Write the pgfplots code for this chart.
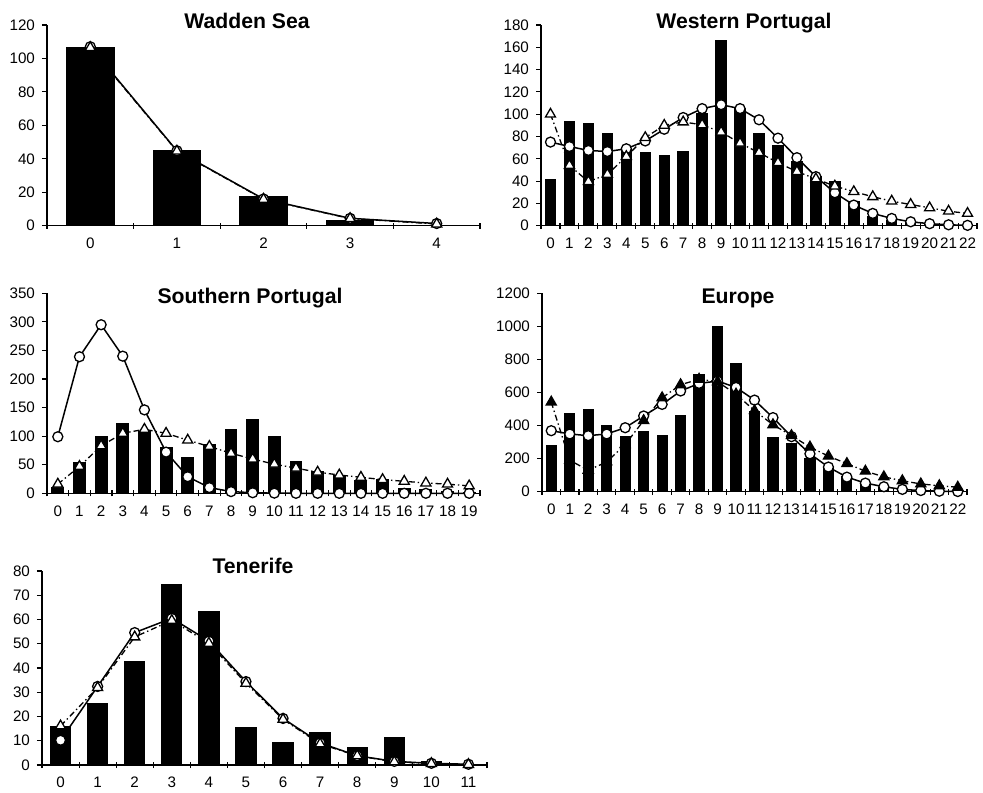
\documentclass[border=0pt]{standalone}
\usepackage{pgfplots}
\pgfplotsset{compat=1.18}
\usepackage{fontspec}
\setmainfont{Liberation Sans}
\pgfplotsset{
  panel/.style={
    scale only axis,
    anchor=south west,
    axis x line=bottom, axis y line=left,
    axis line style={-, line width=0.55pt, black},
    ymin=0, clip=false, enlargelimits=false,
    tick align=outside,
    major tick length=2.5pt,
    major x tick style={draw=none},
    minor tick length=3pt,
    minor x tick style={yshift=1.5pt, line width=0.55pt, black},
    y tick style={line width=0.55pt, black},
    tick label style={font=\fontsize{7.6}{8.5}\selectfont},
    xticklabel style={text height=5.4pt},
    /pgf/number format/assume math mode=true,
    /pgf/number format/1000 sep={},
    scaled y ticks=false,
    xtick=data,
  },
  bars/.style={ybar, bar width=0.55, fill=black, draw=black, line width=0pt},
  circ/.style={black, line width=0.75pt, mark=*, mark size=2.5pt, mark options={solid, fill=white, draw=black, line width=0.65pt}},
  tri/.style={black, line width=0.65pt, dash pattern=on 3pt off 1.5pt on 0.7pt off 1.5pt, mark=triangle*, mark size=2.9pt, mark options={solid, fill=white, draw=black, line width=0.65pt}},
  trib/.style={black, line width=0.65pt, dash pattern=on 3pt off 1.5pt on 0.7pt off 1.5pt, mark=triangle*, mark size=2.9pt, mark options={solid, fill=black, draw=black}},
}
\newcommand{\ttl}[1]{\fontsize{10.6}{12}\selectfont\bfseries #1}
\begin{document}
\begin{tikzpicture}
\useasboundingbox (0,0) rectangle (491.5pt,396pt);

% Wadden Sea
\begin{axis}[panel, at={(23.5pt,283.15pt)}, width=216.5pt, height=100.35pt,
  xmin=-0.5, xmax=4.5, ymax=120, ytick={0,20,...,120},
  minor xtick={-0.5,0.5,...,4.5}]
\addplot[bars] coordinates {(0,106.4) (1,45.2) (2,17.3) (3,3.4) (4,0.4)};
\addplot[circ] coordinates {(0,107) (1,44.8) (2,16) (3,4.4) (4,1.3)};
\addplot[tri] coordinates {(0,106.5) (1,44.6) (2,15.8) (3,4.3) (4,1.0)};
\end{axis}

% Western Portugal
\begin{axis}[panel, at={(270.5pt,283.15pt)}, width=218pt, height=100.35pt,
  xmin=-0.5, xmax=22.5, ymax=180, ytick={0,20,...,180},
  minor xtick={-0.5,0.5,...,22.5}]
\addplot[bars] coordinates {(0,41.5) (1,93) (2,92) (3,83) (4,68) (5,65.5) (6,63) (7,66.5) (8,101) (9,166.5) (10,105) (11,83) (12,72) (13,58) (14,44) (15,40) (16,22) (17,8) (18,5) (19,2.5) (20,1) (21,0.5) (22,0.2)};
\addplot[circ] coordinates {(0,75) (1,71) (2,67.5) (3,66.5) (4,69) (5,76) (6,86.5) (7,97) (8,105) (9,108.5) (10,105) (11,95) (12,78.5) (13,61) (14,44) (15,29.5) (16,18.5) (17,11) (18,6.5) (19,3.5) (20,1.8) (21,0.8) (22,0.3)};
\addplot[tri] coordinates {(0,100) (1,54) (2,39.5) (3,46) (4,62) (5,79) (6,90) (7,93) (8,90.5) (9,84) (10,74) (11,65.5) (12,56.5) (13,48.5) (14,42) (15,35.5) (16,30.5) (17,26) (18,22) (19,19) (20,16) (21,13) (22,11)};
\end{axis}

% Southern Portugal
\begin{axis}[panel, at={(23.5pt,149.35pt)}, width=216.5pt, height=100pt,
  xmin=-0.5, xmax=19.5, ymax=350, ytick={0,50,...,350},
  minor xtick={-0.5,0.5,...,19.5}]
\addplot[bars] coordinates {(0,11) (1,54) (2,100) (3,122) (4,108) (5,80) (6,63) (7,86) (8,111) (9,129) (10,100) (11,56) (12,38) (13,32) (14,23) (15,24) (16,8) (17,6) (18,3) (19,2)};
\addplot[circ] coordinates {(0,99) (1,239) (2,295) (3,240) (4,146) (5,72) (6,29) (7,10) (8,3) (9,1) (10,0.3) (11,0) (12,0) (13,0) (14,0) (15,0) (16,0) (17,0) (18,0) (19,0)};
\addplot[tri] coordinates {(0,16) (1,47) (2,83) (3,105) (4,112) (5,105) (6,93) (7,82) (8,70) (9,60) (10,51) (11,44) (12,37) (13,32) (14,28) (15,24) (16,21) (17,18) (18,16) (19,13)};
\end{axis}

% Europe
\begin{axis}[panel, at={(271pt,150.15pt)}, width=212.5pt, height=99.2pt,
  xmin=-0.5, xmax=22.5, ymax=1200, ytick={0,200,...,1200},
  minor xtick={-0.5,0.5,...,22.5}]
\addplot[bars] coordinates {(0,282) (1,470) (2,500) (3,403) (4,333) (5,367) (6,339) (7,458) (8,706) (9,998) (10,776) (11,484) (12,327) (13,292) (14,200) (15,141) (16,91) (17,50) (18,28) (19,12) (20,6) (21,4) (22,3)};
\addplot[circ] coordinates {(0,369) (1,349) (2,339) (3,349) (4,387) (5,458) (6,528) (7,609) (8,655) (9,669) (10,631) (11,554) (12,448) (13,333) (14,229) (15,149) (16,88) (17,52) (18,30) (19,14) (20,7) (21,3) (22,1)};
\addplot[trib] coordinates {(0,542) (1,190) (2,130) (3,180) (4,285) (5,430) (6,568) (7,647) (8,680) (9,665) (10,590) (11,490) (12,405) (13,339) (14,270) (15,215) (16,170) (17,124) (18,90) (19,66) (20,47) (21,36) (22,27)};
\end{axis}

% Tenerife
\begin{axis}[panel, at={(21pt,13.5pt)}, width=222.5pt, height=97pt,
  xmin=-0.5, xmax=11.5, ymax=80, ytick={0,10,...,80},
  minor xtick={-0.5,0.5,...,11.5}]
\addplot[bars] coordinates {(0,16) (1,25.5) (2,42.5) (3,74.5) (4,63.3) (5,15.3) (6,9.4) (7,13.6) (8,7.4) (9,11.4) (10,1.5) (11,0.3)};
\addplot[circ] coordinates {(0,10.2) (1,32.4) (2,54.6) (3,60.5) (4,51.1) (5,34.4) (6,19.2) (7,9.1) (8,3.8) (9,1.5) (10,0.7) (11,0.3)};
\addplot[tri] coordinates {(0,16.1) (1,31.9) (2,52.8) (3,59.6) (4,50.2) (5,33.7) (6,18.8) (7,8.7) (8,3.8) (9,1.3) (10,0.6) (11,0.2)};
\end{axis}

\node[anchor=base] at (123.5pt,381.85pt) {\ttl{Wadden Sea}};
\node[anchor=base] at (372pt,381.85pt) {\ttl{Western Portugal}};
\node[anchor=base] at (125pt,244.35pt) {\ttl{Southern Portugal}};
\node[anchor=base] at (369pt,244.35pt) {\ttl{Europe}};
\node[anchor=base] at (126.5pt,109.35pt) {\ttl{Tenerife}};
\end{tikzpicture}
\end{document}
